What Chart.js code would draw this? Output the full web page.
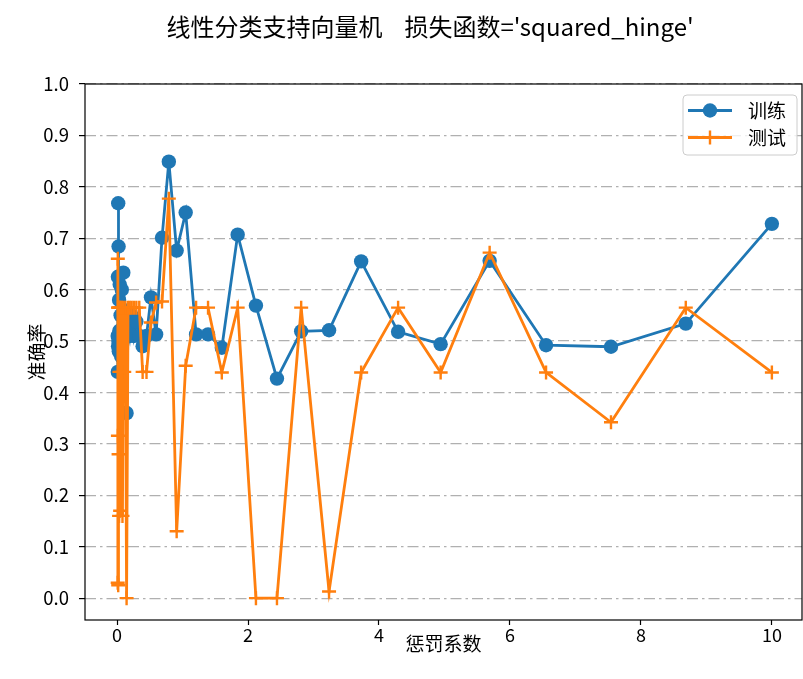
<!DOCTYPE html>
<html>
<head>
<meta charset="utf-8">
<script src="https://cdn.jsdelivr.net/npm/chart.js@4"></script>
<style>
  html, body { margin: 0; padding: 0; background: #ffffff; overflow: hidden; }
  #wrap { width: 803px; height: 679px; }
  canvas { display: block; }
</style>
</head>
<body>
<div id="wrap"><canvas id="c" width="803" height="679"></canvas></div>
<script>
// Penalty coefficient C (log-spaced from 0.01 to 10)
const penalty = [
  0.010000, 0.011514, 0.013257, 0.015264, 0.017575, 0.020236, 0.023300, 0.026827,
  0.030888, 0.035565, 0.040949, 0.047149, 0.054287, 0.062506, 0.071969, 0.082864,
  0.095410, 0.109854, 0.126486, 0.145635, 0.167683, 0.193070, 0.222300, 0.255955,
  0.294705, 0.339322, 0.390694, 0.449843, 0.517947, 0.596362, 0.686649, 0.790604,
  0.910298, 1.048113, 1.206793, 1.389495, 1.599859, 1.842070, 2.120951, 2.442053,
  2.811769, 3.237458, 3.727594, 4.291934, 4.941713, 5.689866, 6.551286, 7.543120,
  8.685114, 10.000000
];

// Training accuracy for each C
const trainAcc = [
  0.510, 0.440, 0.625, 0.490, 0.768, 0.500, 0.684, 0.480,
  0.580, 0.520, 0.610, 0.500, 0.550, 0.470, 0.600, 0.510,
  0.633, 0.560, 0.520, 0.360, 0.530, 0.510, 0.550, 0.510,
  0.538, 0.510, 0.490, 0.510, 0.585, 0.513, 0.701, 0.849,
  0.676, 0.750, 0.513, 0.513, 0.487, 0.707, 0.569, 0.427,
  0.519, 0.521, 0.655, 0.518, 0.494, 0.656, 0.492, 0.489,
  0.534, 0.728
];

// Test accuracy for each C
const testAcc = [
  0.030, 0.660, 0.316, 0.565, 0.025, 0.565, 0.280, 0.565,
  0.160, 0.440, 0.565, 0.170, 0.565, 0.440, 0.565, 0.160,
  0.565, 0.440, 0.565, 0.000, 0.565, 0.565, 0.565, 0.565,
  0.565, 0.565, 0.440, 0.440, 0.536, 0.575, 0.577, 0.777,
  0.130, 0.452, 0.565, 0.565, 0.439, 0.565, 0.000, 0.000,
  0.565, 0.013, 0.439, 0.565, 0.439, 0.672, 0.439, 0.342,
  0.565, 0.439
];

const xTicks = [0, 2, 4, 6, 8, 10];
const yTicks = [0.0, 0.1, 0.2, 0.3, 0.4, 0.5, 0.6, 0.7, 0.8, 0.9, 1.0];
const seriesNames = ['训练', '测试'];
const titleParts = ['线性分类支持向量机', "损失函数='squared_hinge'"];
const xLabel = '惩罚系数';
const yLabel = '准确率';

const BLUE = '#1f77b4';
const ORANGE = '#ff7f0e';
const FONT = "'Noto Sans CJK SC', 'Noto Sans', sans-serif";
const LINE_W = 2.8;

const toPoints = ys => penalty.map((x, i) => ({ x: x, y: ys[i] }));

// Frame around the plot area, figure title and legend box
const decorations = {
  id: 'decorations',
  afterDatasetsDraw(chart) {
    const { ctx, chartArea: a } = chart;
    ctx.save();
    ctx.strokeStyle = '#000000';
    ctx.lineWidth = 1.2;
    ctx.strokeRect(a.left, a.top, a.right - a.left, a.bottom - a.top);
    ctx.restore();
  },
  afterDraw(chart) {
    const { ctx } = chart;
    ctx.save();
    // title: two parts separated by a wide gap
    ctx.fillStyle = '#000000';
    ctx.font = '24px ' + FONT;
    ctx.textBaseline = 'middle';
    ctx.textAlign = 'left';
    const gap = 22;
    const w0 = ctx.measureText(titleParts[0]).width;
    const w1 = ctx.measureText(titleParts[1]).width;
    const x0 = 430 - (w0 + gap + w1) / 2;
    ctx.fillText(titleParts[0], x0, 27);
    ctx.fillText(titleParts[1], x0 + w0 + gap, 27);

    // legend
    const bx = 683, by = 95, bw = 114, bh = 60, r = 4;
    ctx.beginPath();
    ctx.moveTo(bx + r, by);
    ctx.arcTo(bx + bw, by, bx + bw, by + bh, r);
    ctx.arcTo(bx + bw, by + bh, bx, by + bh, r);
    ctx.arcTo(bx, by + bh, bx, by, r);
    ctx.arcTo(bx, by, bx + bw, by, r);
    ctx.closePath();
    ctx.fillStyle = 'rgba(255,255,255,0.8)';
    ctx.fill();
    ctx.strokeStyle = '#cccccc';
    ctx.lineWidth = 1;
    ctx.stroke();

    const rows = [110.5, 137.5];
    const colors = [BLUE, ORANGE];
    rows.forEach((y, k) => {
      ctx.strokeStyle = colors[k];
      ctx.lineWidth = LINE_W;
      ctx.beginPath();
      ctx.moveTo(688, y);
      ctx.lineTo(732, y);
      ctx.stroke();
      if (k === 0) {
        ctx.fillStyle = BLUE;
        ctx.beginPath();
        ctx.arc(710, y, 7.2, 0, Math.PI * 2);
        ctx.fill();
      } else {
        ctx.lineWidth = 2.4;
        ctx.beginPath();
        ctx.moveTo(703, y); ctx.lineTo(717, y);
        ctx.moveTo(710, y - 7); ctx.lineTo(710, y + 7);
        ctx.stroke();
      }
      ctx.fillStyle = '#000000';
      ctx.font = '19px ' + FONT;
      ctx.textAlign = 'left';
      ctx.textBaseline = 'middle';
      ctx.fillText(seriesNames[k], 748, y);
    });
    ctx.restore();
  }
};

new Chart(document.getElementById('c'), {
  type: 'line',
  data: {
    datasets: [
      {
        label: seriesNames[0],
        data: toPoints(trainAcc),
        borderColor: BLUE,
        backgroundColor: BLUE,
        borderWidth: LINE_W,
        pointStyle: 'circle',
        pointRadius: 7.2,
        pointBorderWidth: 0,
        pointBackgroundColor: BLUE,
        tension: 0,
        order: 2
      },
      {
        label: seriesNames[1],
        data: toPoints(testAcc),
        borderColor: ORANGE,
        backgroundColor: ORANGE,
        borderWidth: LINE_W,
        pointStyle: 'cross',
        pointRadius: 7,
        pointBorderWidth: 2.4,
        pointBorderColor: ORANGE,
        tension: 0,
        order: 1
      }
    ]
  },
  options: {
    responsive: false,
    animation: false,
    devicePixelRatio: 1,
    layout: {
      autoPadding: false,
      padding: { top: 84, right: 1, bottom: 0, left: 0 }
    },
    plugins: {
      legend: { display: false },
      tooltip: { enabled: false },
      title: { display: false }
    },
    scales: {
      x: {
        type: 'linear',
        min: -0.4895,
        max: 10.46,
        afterBuildTicks(scale) { scale.ticks = xTicks.map(v => ({ value: v })); },
        afterFit(scale) {
          scale.height = 59;
          scale.paddingLeft = 0;
          scale.paddingRight = 0;
        },
        border: { display: false },
        grid: {
          drawOnChartArea: false,
          drawTicks: true,
          tickLength: 5,
          tickColor: '#000000',
          tickWidth: 1.2
        },
        ticks: {
          color: '#000000',
          font: { family: FONT, size: 18 },
          padding: -1,
          maxRotation: 0,
          callback: v => String(v)
        },
        title: {
          display: true,
          text: xLabel,
          color: '#000000',
          font: { family: FONT, size: 19 },
          padding: { top: 0, bottom: 24 }
        }
      },
      y: {
        type: 'linear',
        min: -0.0425,
        max: 1.0,
        afterBuildTicks(scale) { scale.ticks = yTicks.map(v => ({ value: v })); },
        afterFit(scale) {
          scale.width = 85;
          scale.paddingTop = 0;
          scale.paddingBottom = 0;
        },
        border: { display: false, dash: [11, 4, 2.5, 4] },
        grid: {
          drawOnChartArea: true,
          drawTicks: true,
          tickLength: 6,
          color: '#b0b0b0',
          lineWidth: 1.2,
          tickColor: '#000000',
          tickWidth: 1.2,
          tickBorderDash: []
        },
        ticks: {
          color: '#000000',
          font: { family: FONT, size: 18.5 },
          padding: 10,
          callback: v => v.toFixed(1)
        },
        title: {
          display: true,
          text: yLabel,
          color: '#000000',
          font: { family: FONT, size: 19 },
          padding: { top: 25, bottom: 0 }
        }
      }
    }
  },
  plugins: [decorations]
});
</script>
</body>
</html>
